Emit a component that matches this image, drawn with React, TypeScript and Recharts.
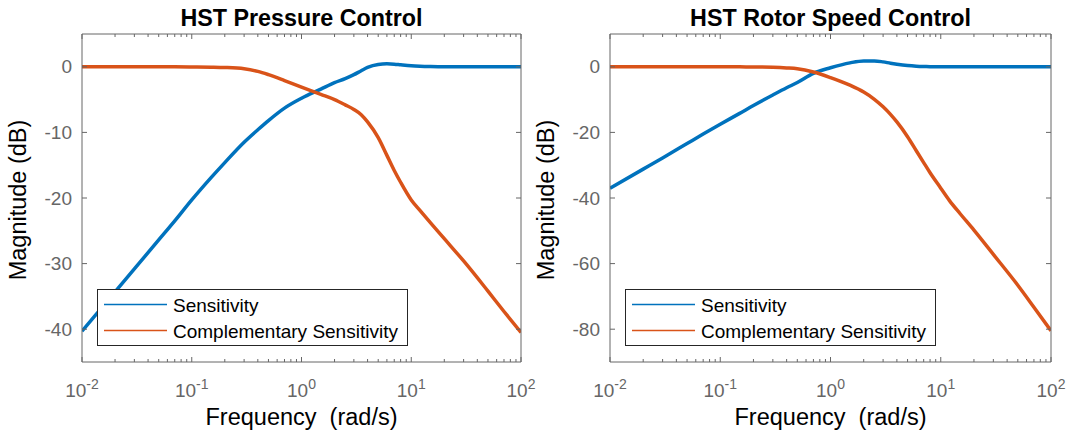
import React from 'react';
import { LineChart, Line, XAxis, YAxis, Legend } from 'recharts';

// frequency grid (rad/s) shared by both panels
const FREQ = [0.01, 0.02, 0.03, 0.05, 0.07, 0.1, 0.15, 0.2, 0.3, 0.4, 0.5, 0.7, 1, 1.5, 2, 2.5, 3, 3.5, 4, 5, 6, 7, 8, 10, 12, 15, 20, 30, 50, 70, 100];

// HST pressure control, magnitudes in dB
const PRESSURE_S = [-40.3, -34.3, -30.8, -26.4, -23.5, -20.3, -16.9, -14.6, -11.5, -9.6, -8.2, -6.3, -4.8, -3.4, -2.4, -1.8, -1.2, -0.6, -0.1, 0.35, 0.45, 0.4, 0.3, 0.15, 0.08, 0.03, 0, 0, 0, 0, 0];
const PRESSURE_T = [0, 0, 0, 0, 0, -0.02, -0.05, -0.1, -0.3, -0.7, -1.2, -2.1, -3.1, -4.2, -5.0, -5.8, -6.5, -7.3, -8.4, -10.8, -13.5, -15.8, -17.6, -20.3, -21.9, -23.8, -26.2, -29.6, -34.2, -37.3, -40.5];

// HST rotor speed control, magnitudes in dB
const SPEED_S = [-37, -31.2, -27.8, -23.4, -20.5, -17.5, -14.2, -11.8, -8.6, -6.4, -4.8, -2.0, -0.3, 1.2, 1.8, 1.8, 1.5, 1.1, 0.8, 0.4, 0.2, 0.1, 0.05, 0, 0, 0, 0, 0, 0, 0, 0];
const SPEED_T = [0, 0, 0, 0, 0, 0, -0.02, -0.05, -0.15, -0.35, -0.6, -1.6, -3.3, -5.6, -7.7, -9.9, -12.2, -14.5, -16.8, -21.3, -25.6, -29.2, -32.3, -37, -40.8, -44.8, -49.8, -57.2, -66.6, -73.3, -80.5];

const SERIES_NAMES = ['Sensitivity', 'Complementary Sensitivity'];

const X_MAJOR = [0.01, 0.1, 1, 10, 100];
const X_TICKS = [
  0.01, 0.02, 0.03, 0.04, 0.05, 0.06, 0.07, 0.08, 0.09,
  0.1, 0.2, 0.3, 0.4, 0.5, 0.6, 0.7, 0.8, 0.9,
  1, 2, 3, 4, 5, 6, 7, 8, 9,
  10, 20, 30, 40, 50, 60, 70, 80, 90, 100,
];
const PRESSURE_Y_TICKS = [-40, -30, -20, -10, 0];
const SPEED_Y_TICKS = [-80, -60, -40, -20, 0];

const FONT = '"Liberation Sans", Arial, Helvetica, sans-serif';
const FRAME = '#666666';
const TICK_TEXT = '#666666';
const BLUE = '#0072BD';
const ORANGE = '#D95319';

const BottomTick = ({ x, y, payload }: any) => {
  const v = payload.value;
  const major = X_MAJOR.includes(v);
  return (
    <g>
      <line x1={x} x2={x} y1={y} y2={y - (major ? 5 : 3)} stroke={FRAME} />
      {major && (
        <text x={x} y={y + 35} textAnchor="middle" fill={TICK_TEXT} fontSize={19} fontFamily={FONT}>
          10<tspan dy={-8} fontSize={14}>{Math.round(Math.log10(v))}</tspan>
        </text>
      )}
    </g>
  );
};

const TopTick = ({ x, y, payload }: any) => {
  const major = X_MAJOR.includes(payload.value);
  return <line x1={x} x2={x} y1={y} y2={y + (major ? 5 : 3)} stroke={FRAME} />;
};

const LeftTick = ({ x, y, payload }: any) => (
  <g>
    <line x1={x} x2={x + 5} y1={y} y2={y} stroke={FRAME} />
    <text x={x - 10} y={y} dy="0.35em" textAnchor="end" fill={TICK_TEXT} fontSize={19} fontFamily={FONT}>
      {payload.value}
    </text>
  </g>
);

const RightTick = ({ x, y }: any) => <line x1={x} x2={x - 5} y1={y} y2={y} stroke={FRAME} />;

const LegendBox = () => (
  <svg width={311} height={57} style={{ display: 'block' }}>
    <rect x={0.5} y={0.5} width={310} height={56} fill="#fff" stroke="#262626" />
    <line x1={7} x2={70} y1={15.5} y2={15.5} stroke={BLUE} strokeWidth={1.5} />
    <text x={76} y={22.5} fontSize={19} fontFamily={FONT} fill="#000">{SERIES_NAMES[0]}</text>
    <line x1={7} x2={70} y1={41.5} y2={41.5} stroke={ORANGE} strokeWidth={1.5} />
    <text x={76} y={49} fontSize={19} fontFamily={FONT} fill="#000">{SERIES_NAMES[1]}</text>
  </svg>
);

type PanelProps = {
  left: number;
  width: number;
  plotLeft: number;
  plotRight: number;
  title: string;
  s: number[];
  t: number[];
  yDomain: [number, number];
  yTicks: number[];
};

const PLOT_TOP = 34;
const PLOT_BOTTOM = 362;

function BodePanel({ left, width, plotLeft, plotRight, title, s, t, yDomain, yTicks }: PanelProps) {
  const data = FREQ.map((f, i) => ({ f, s: s[i], t: t[i] }));
  // every axis is 1px thick, so the margins are 1px short of the plot edges
  const margin = { top: PLOT_TOP - 1, right: width - plotRight - 1, bottom: 434 - PLOT_BOTTOM - 1, left: plotLeft - 1 };

  return (
    <div style={{ position: 'absolute', left, top: 0 }}>
      <LineChart width={width} height={434} data={data} margin={margin}>
        <XAxis
          dataKey="f"
          type="number"
          scale="log"
          domain={[0.01, 100]}
          allowDataOverflow
          ticks={X_TICKS}
          interval={0}
          height={1}
          tickSize={0}
          tickMargin={0}
          tickLine={false}
          tick={<BottomTick />}
          axisLine={{ stroke: FRAME }}
          label={(p: any) => {
            const vb = p.viewBox;
            return (
              <text x={vb.x + vb.width / 2} y={vb.y + 63} textAnchor="middle" fontSize={23.5} fontFamily={FONT} fill="#000" style={{ whiteSpace: 'pre' }}>
                {'Frequency  (rad/s)'}
              </text>
            );
          }}
        />
        <XAxis
          xAxisId="top"
          orientation="top"
          dataKey="f"
          type="number"
          scale="log"
          domain={[0.01, 100]}
          allowDataOverflow
          ticks={X_TICKS}
          interval={0}
          height={1}
          tickSize={0}
          tickMargin={0}
          tickLine={false}
          tick={<TopTick />}
          axisLine={{ stroke: FRAME }}
          label={(p: any) => {
            const vb = p.viewBox;
            return (
              <text x={vb.x + vb.width / 2} y={vb.y - 7} textAnchor="middle" fontSize={23.3} fontWeight="bold" fontFamily={FONT} fill="#000">
                {title}
              </text>
            );
          }}
        />
        <YAxis
          type="number"
          domain={yDomain}
          allowDataOverflow
          ticks={yTicks}
          interval={0}
          width={1}
          tickSize={0}
          tickMargin={0}
          tickLine={false}
          tick={<LeftTick />}
          axisLine={{ stroke: FRAME }}
          label={(p: any) => {
            const vb = p.viewBox;
            const cx = vb.x + vb.width - 56;
            const cy = vb.y + vb.height / 2 + 2;
            return (
              <text x={cx} y={cy} transform={`rotate(-90 ${cx} ${cy})`} textAnchor="middle" fontSize={23.5} fontFamily={FONT} fill="#000">
                Magnitude (dB)
              </text>
            );
          }}
        />
        <YAxis
          yAxisId="right"
          orientation="right"
          type="number"
          domain={yDomain}
          allowDataOverflow
          ticks={yTicks}
          interval={0}
          width={1}
          tickSize={0}
          tickMargin={0}
          tickLine={false}
          tick={<RightTick />}
          axisLine={{ stroke: FRAME }}
        />
        <Line type="monotone" dataKey="s" name={SERIES_NAMES[0]} stroke={BLUE} strokeWidth={3.5} dot={false} activeDot={false} isAnimationActive={false} />
        <Line type="monotone" dataKey="t" name={SERIES_NAMES[1]} stroke={ORANGE} strokeWidth={3.5} dot={false} activeDot={false} isAnimationActive={false} />
        <Legend
          layout="vertical"
          align="center"
          verticalAlign="middle"
          content={() => <LegendBox />}
          wrapperStyle={{ left: plotLeft + 15, top: 289, width: 311, height: 57 }}
        />
      </LineChart>
    </div>
  );
}

export default function App() {
  return (
    <div style={{ position: 'absolute', left: 0, top: 0, width: 1072, height: 434, background: '#fff' }}>
      <BodePanel
        left={0}
        width={540}
        plotLeft={82}
        plotRight={521}
        title="HST Pressure Control"
        s={PRESSURE_S}
        t={PRESSURE_T}
        yDomain={[-45, 5]}
        yTicks={PRESSURE_Y_TICKS}
      />
      <BodePanel
        left={520}
        width={552}
        plotLeft={90}
        plotRight={531}
        title="HST Rotor Speed Control"
        s={SPEED_S}
        t={SPEED_T}
        yDomain={[-90, 10]}
        yTicks={SPEED_Y_TICKS}
      />
    </div>
  );
}
